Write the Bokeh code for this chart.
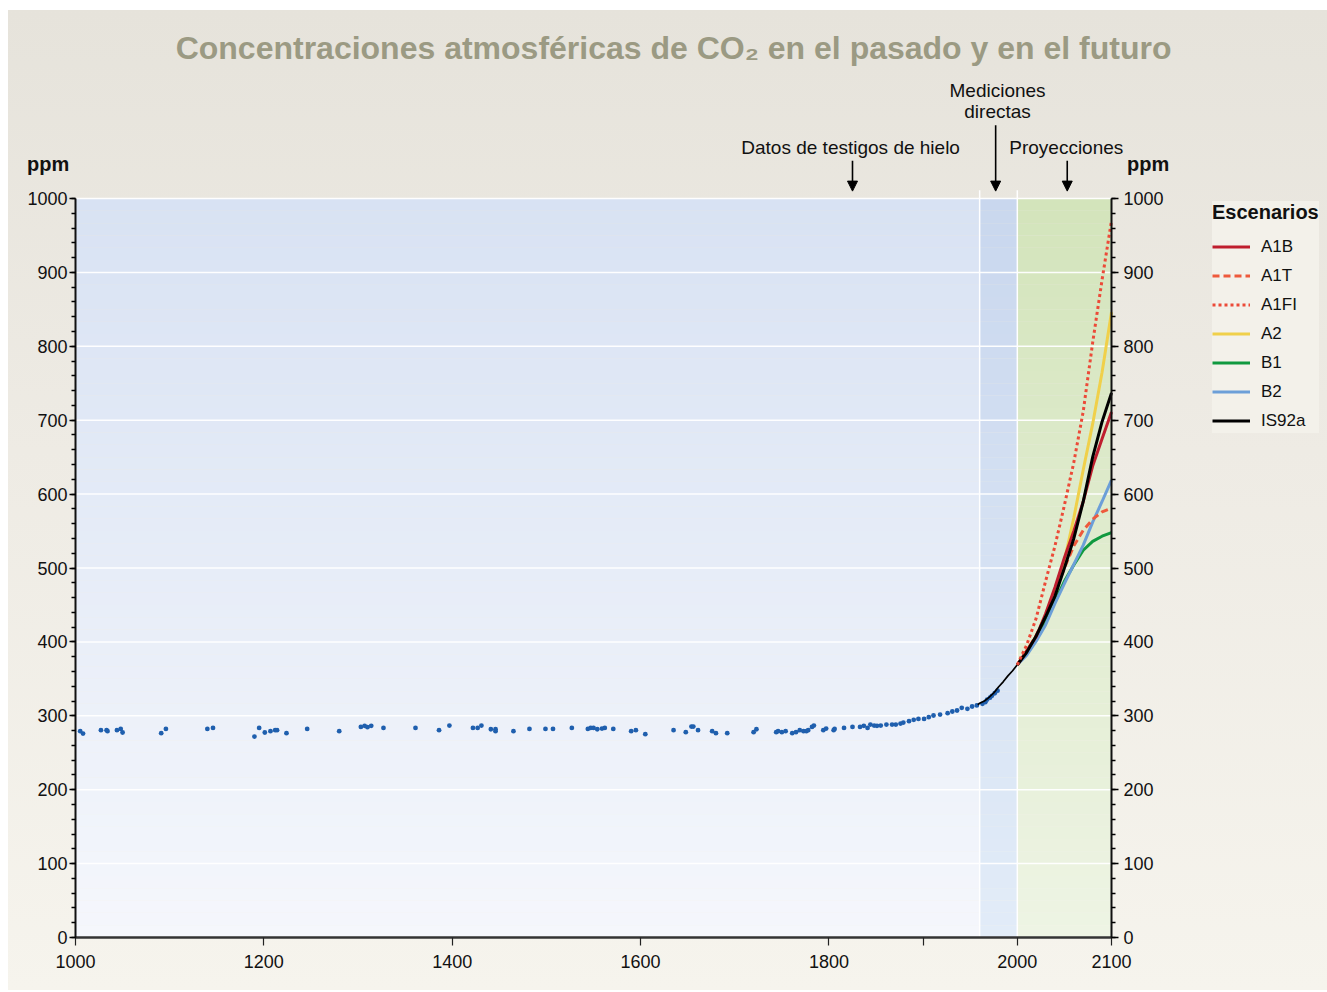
import numpy as np
from bokeh.plotting import figure
from bokeh.models import (Range1d, LinearAxis, FixedTicker, Label, Arrow, NormalHead,
                          Legend, LegendItem)
from bokeh.embed import file_html
from bokeh.resources import INLINE

# ---------------- data ----------------
ice_years = [1005, 1008, 1027, 1033, 1034, 1044, 1048, 1050, 1091, 1096, 1140, 1146,
             1190, 1195, 1201, 1207, 1212, 1214, 1224, 1246, 1280, 1303, 1307, 1310,
             1314, 1327, 1361, 1386, 1397, 1422, 1427, 1431, 1441, 1446, 1446, 1465,
             1482, 1499, 1507, 1527, 1544, 1547, 1550, 1554, 1559, 1562, 1571, 1590,
             1595, 1605, 1635, 1648, 1654, 1656, 1661, 1676, 1680, 1692, 1720, 1723,
             1744, 1746, 1750, 1754, 1761, 1765, 1769, 1773, 1776, 1778, 1782, 1784,
             1794, 1797, 1805, 1806, 1816, 1825, 1833, 1837, 1841, 1844, 1848, 1851,
             1855, 1861, 1867, 1871, 1876, 1879, 1885, 1890, 1895, 1901, 1906, 1911,
             1918, 1926, 1931, 1936, 1941, 1947, 1952, 1957, 1963, 1966, 1968, 1971,
             1973, 1976, 1979]
ice_ppm = [279.2, 276.0, 280.5, 280.5, 279.2, 280.5, 282.3, 277.4, 276.5, 282.3, 282.3, 283.6,
           271.9, 283.6, 277.4, 279.2, 280.5, 280.5, 276.5, 282.3, 279.2, 285.0, 286.4, 284.6,
           286.4, 283.6, 283.6, 280.5, 286.8, 283.6, 283.6, 286.8, 281.8, 281.8, 279.2, 279.2,
           282.3, 282.3, 282.3, 283.6, 282.3, 283.6, 283.6, 281.8, 282.7, 283.6, 282.3, 279.2,
           280.5, 275.1, 280.5, 277.8, 285.4, 285.4, 280.5, 279.2, 276.5, 276.5, 277.8, 281.8,
           277.8, 279.2, 277.8, 279.2, 276.5, 277.8, 280.5, 279.2, 279.2, 280.5, 285.0, 286.8,
           280.5, 282.7, 280.5, 282.3, 283.6, 285.0, 285.0, 286.4, 283.6, 288.1, 286.8, 286.4,
           286.8, 288.1, 288.1, 288.1, 289.5, 290.8, 292.7, 294.5, 295.8, 295.8, 298.1, 300.4,
           301.7, 303.5, 305.8, 307.2, 310.8, 309.4, 312.6, 314.0, 316.2, 318.5, 322.0, 324.5,
           327.0, 330.5, 334.0]

direct_years = [1958, 1960, 1965, 1970, 1975, 1980, 1985, 1990, 1995, 2000]
direct_ppm = [315, 317, 320, 325, 331, 339, 346, 354, 361, 369]

proj_years = [2000, 2010, 2020, 2030, 2040, 2050, 2060, 2070, 2080, 2090, 2100]
A1B = [369, 388, 407, 438, 474, 514, 550, 590, 638, 675, 711]
A1T = [369, 388, 409, 435, 468, 500, 530, 551, 566, 576, 581]
A1FI = [369, 396, 432, 482, 530, 585, 643, 712, 805, 890, 970]
A2 = [369, 387, 408, 428, 460, 510, 568, 633, 695, 765, 846]
B1 = [369, 387, 407, 428, 455, 482, 504, 524, 536, 543, 548]
B2 = [369, 382, 401, 423, 452, 479, 505, 531, 562, 590, 619]
IS92a = [369, 386, 408, 434, 462, 500, 540, 590, 650, 698, 737]

period_edges = [1000, 1960, 2000, 2100]
x_ticks = [1000, 1200, 1400, 1600, 1800, 1900, 2000, 2100]
y_ticks = [0, 100, 200, 300, 400, 500, 600, 700, 800, 900, 1000]
y_minor = list(range(0, 1001, 20))

FONT = "Liberation Sans"
W, H = 1327, 992
# plot area in pixels: x 75..1111 (years 1000..2100), y 937..198 (ppm 0..1000)
xpx = 1036 / 1100.0
ypx = 739 / 1000.0
x0 = 1000 - 75 / xpx
x1 = 1000 + (W - 75) / xpx
y0 = -(H - 937) / ypx
y1 = 937 / ypx

p = figure(width=W, height=H, output_backend="svg", toolbar_location=None,
           x_range=Range1d(x0, x1), y_range=Range1d(y0, y1),
           min_border_left=0, min_border_right=0, min_border_top=0, min_border_bottom=0)
p.title.visible = False
p.border_fill_color = None
p.background_fill_color = None
p.outline_line_color = None
p.xgrid.visible = False
p.ygrid.visible = False
p.styles = {
    "background-image": "linear-gradient(180deg, #e6e3db 0%, #eeebe4 45%, #f6f4ed 100%)",
    "background-size": "1319px 980px",
    "background-position": "8px 10px",
    "background-repeat": "no-repeat",
    "background-color": "white",
}

# ---------------- background gradient bands ----------------
def lerp(c1, c2, t):
    a = [int(c1[i:i + 2], 16) for i in (1, 3, 5)]
    b = [int(c2[i:i + 2], 16) for i in (1, 3, 5)]
    return "#%02x%02x%02x" % tuple(int(round(a[k] + (b[k] - a[k]) * t)) for k in range(3))

region_colors = [("#d8e2f3", "#f5f7fc"), ("#c9d7ee", "#e2ecf8"), ("#d3e4bb", "#eef4e4")]
N = 60
edges_y = np.linspace(y_ticks[0], y_ticks[-1], N + 1)
L, R, B, T, C = [], [], [], [], []
for i in range(3):
    for j in range(N):
        L.append(period_edges[i]); R.append(period_edges[i + 1])
        B.append(edges_y[j]); T.append(edges_y[j + 1])
        C.append(lerp(region_colors[i][1], region_colors[i][0], (j + 0.5) / N))
p.quad(left=L, right=R, bottom=B, top=T, fill_color=C, line_color=None, level="image")

# horizontal white grid lines and vertical period separators
p.segment(x0=[period_edges[0]] * len(y_ticks), x1=[period_edges[-1]] * len(y_ticks),
          y0=y_ticks, y1=y_ticks, line_color="white", line_width=1.5, line_alpha=0.95,
          level="underlay")
p.segment(x0=period_edges[1:3], x1=period_edges[1:3], y0=[y_ticks[0]] * 2,
          y1=[y_ticks[-1] + 11] * 2, line_color="white", line_width=1.5, level="underlay")

# ---------------- axes ----------------
def style_y(ax):
    ax.axis_line_color = "#111111"
    ax.axis_line_width = 2
    ax.major_tick_in = 0
    ax.minor_tick_in = 0
    ax.major_tick_line_width = 1.3
    ax.minor_tick_line_width = 1.3
    ax.major_label_text_font = FONT
    ax.major_label_text_font_size = "18px"
    ax.major_label_text_color = "#111111"
    ax.bounds = (y_ticks[0], y_ticks[-1])

xa = p.xaxis[0]
xa.fixed_location = 0
xa.bounds = (period_edges[0], period_edges[-1])
xa.ticker = FixedTicker(ticks=x_ticks)
xa.major_label_overrides = {1900: ""}
xa.axis_line_color = "#333333"
xa.axis_line_width = 2.5
xa.major_tick_out = 8
xa.major_tick_in = 0
xa.major_tick_line_color = "#222222"
xa.major_tick_line_width = 1.2
xa.minor_tick_line_color = None
xa.major_label_text_font = FONT
xa.major_label_text_font_size = "18px"
xa.major_label_text_color = "#111111"
xa.major_label_standoff = 9

ya = p.yaxis[0]
ya.fixed_location = period_edges[0]
ya.ticker = FixedTicker(ticks=y_ticks, minor_ticks=y_minor)
style_y(ya)
ya.major_tick_out = 6
ya.minor_tick_out = 4
ya.major_label_standoff = 2

ra = LinearAxis(ticker=FixedTicker(ticks=y_ticks, minor_ticks=y_minor))
ra.fixed_location = period_edges[-1]
style_y(ra)
ra.major_tick_out = 7
ra.minor_tick_out = 4
ra.major_label_standoff = 5
p.add_layout(ra, "right")

# ---------------- data glyphs ----------------
p.scatter(ice_years, ice_ppm, size=4.8, color="#1f5fae", line_color=None)
p.line(direct_years, direct_ppm, line_color="black", line_width=1.7)

series = [
    ("A1B", A1B, "#bf1e2e", "solid"),
    ("A1T", A1T, "#ee5a3c", "7 4"),
    ("A1FI", A1FI, "#ec4a38", "3 3"),
    ("A2", A2, "#f0d04a", "solid"),
    ("B1", B1, "#10993f", "solid"),
    ("B2", B2, "#6c9fd8", "solid"),
    ("IS92a", IS92a, "#000000", "solid"),
]
draw_order = ["A2", "B1", "B2", "A1T", "A1B", "IS92a", "A1FI"]
renderers = {}
for name in draw_order:
    for (n, vals, col, dash) in series:
        if n == name:
            renderers[n] = p.line(proj_years, vals, line_color=col, line_width=3,
                                  line_dash=dash)

items = [LegendItem(label=n, renderers=[renderers[n]]) for (n, _, _, _) in series]
legend = Legend(items=items, location=(1212, H - 433), title="Escenarios")
legend.title_text_font = FONT
legend.title_text_font_style = "bold"
legend.title_text_font_size = "20px"
legend.title_text_color = "#111111"
legend.title_standoff = 10
legend.label_text_font = FONT
legend.label_text_font_size = "17px"
legend.label_text_color = "#111111"
legend.glyph_width = 38
legend.glyph_height = 25
legend.label_height = 25
legend.spacing = 4
legend.label_standoff = 11
legend.padding = 22
legend.margin = 0
legend.background_fill_color = "#f3f1ea"
legend.background_fill_alpha = 1
legend.border_line_color = None
p.add_layout(legend)

# ---------------- annotations ----------------
p.add_layout(Label(x=1635, y=1204, text="Concentraciones atmosféricas de CO₂ en el pasado y en el futuro",
                   text_font=FONT, text_font_style="bold", text_font_size="32px",
                   text_color="#9b9a83", text_align="center", text_baseline="middle"))

def txt(x, y, s, size="19px", bold=False, align="center"):
    p.add_layout(Label(x=x, y=y, text=s, text_font=FONT, text_font_size=size,
                       text_font_style="bold" if bold else "normal", text_color="#111111",
                       text_align=align, text_baseline="middle"))

txt(1823, 1069, "Datos de testigos de hielo")
txt(1979, 1146, "Mediciones")
txt(1979, 1118, "directas")
txt(2052, 1069, "Proyecciones")
txt(971, 1047, "ppm", size="20px", bold=True)
txt(2139, 1047, "ppm", size="20px", bold=True)

for (ax, ys) in [(1825, 1051), (1977, 1099), (2053, 1051)]:
    p.add_layout(Arrow(x_start=ax, y_start=ys, x_end=ax, y_end=1010,
                       line_color="black", line_width=1.6,
                       end=NormalHead(size=10, fill_color="black", line_color="black")))

open("out.html", "w").write(file_html(p, INLINE))
